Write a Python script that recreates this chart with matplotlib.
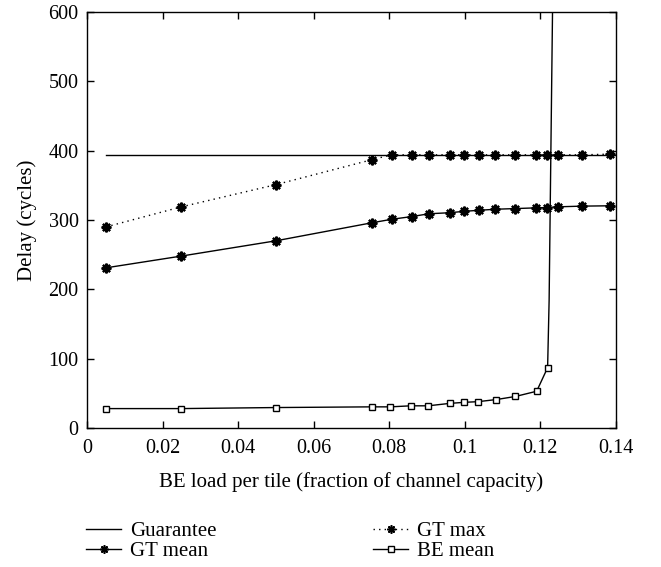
import matplotlib
matplotlib.use("Agg")
import matplotlib.pyplot as plt
from matplotlib.lines import Line2D

plt.rcParams['font.family'] = ['Liberation Serif', 'DejaVu Serif']

# Guarantee
guar_x = [0.005, 0.14]
guar_y = [394, 394]

# GT max
gtmax_x = [0.005, 0.025, 0.050, 0.0754, 0.0806, 0.0860, 0.0905, 0.0960, 0.0998,
           0.1037, 0.1081, 0.1134, 0.1188, 0.1218, 0.1246, 0.1310, 0.1385]
gtmax_y = [290, 319, 351, 387, 394, 394, 394, 394, 394,
           394, 394, 394, 394, 394, 394, 394, 395]

# GT mean
gtmean_x = gtmax_x
gtmean_y = [231, 248, 270, 296, 301, 305, 309, 310.5, 312.5,
            314, 315.5, 316.5, 317.5, 318, 319, 320, 320.5]

# BE mean (markers)
be_x = [0.005, 0.025, 0.050, 0.0754, 0.0803, 0.0857, 0.0903, 0.0960, 0.0998,
        0.1035, 0.1083, 0.1134, 0.1190, 0.1219]
be_y = [28, 28, 29.5, 30.5, 30.5, 32, 32, 35.5, 37,
        38, 41, 45.5, 53, 87]
# BE mean curve continuation (no markers)
be_tail_x = [0.1219, 0.1223, 0.1232]
be_tail_y = [87, 184, 600]

legend_labels = ['Guarantee', 'GT mean', 'GT max', 'BE mean']

fig = plt.figure(figsize=(6.61, 5.67), dpi=100)
ax = fig.add_axes([87/661, 1-428/567, (616-87)/661, (428-12)/567])

star = (8, 2, 0)
ax.plot(guar_x, guar_y, color='black', lw=1.0)
ax.plot(gtmean_x, gtmean_y, color='black', lw=1.0, marker=star, ms=7, mew=1.6)
ax.plot(gtmax_x, gtmax_y, color='black', lw=1.0, ls=(0, (1, 3)), marker=star, ms=7,
        mew=1.6)
ax.plot(be_tail_x, be_tail_y, color='black', lw=1.0)
ax.plot(be_x, be_y, color='black', lw=1.0, marker='s', ms=5, mfc='white', mew=1.0)

ax.set_xlim(0, 0.14)
ax.set_ylim(0, 600)
ax.set_xticks([0, 0.02, 0.04, 0.06, 0.08, 0.1, 0.12, 0.14])
ax.set_xticklabels(['0', '0.02', '0.04', '0.06', '0.08', '0.1', '0.12', '0.14'])
ax.set_yticks([0, 100, 200, 300, 400, 500, 600])
ax.tick_params(direction='in', top=True, right=True, labelsize=14.5, length=5, width=1,
               pad=6)
ax.tick_params(axis='x', pad=8)
for s in ax.spines.values():
    s.set_linewidth(1.0)
ax.set_xlabel('BE load per tile (fraction of channel capacity)', fontsize=15, labelpad=10)
ax.set_ylabel('Delay (cycles)', fontsize=15, labelpad=8)

# legend entries (handles only describe styles)
h_guar = Line2D([], [], color='black', lw=1.0)
h_mean = Line2D([], [], color='black', lw=1.0, marker=star, ms=6, mew=1.2)
h_max = Line2D([], [], color='black', lw=1.0, ls=(0, (1, 3)), marker=star, ms=6, mew=1.2)
h_be = Line2D([], [], color='black', lw=1.0, marker='s', ms=4.5, mfc='white', mew=1.0)
handles = [h_guar, h_mean, h_max, h_be]
positions = [(86, 531), (86, 551), (373, 531), (373, 551)]
for h, lab, (px, py) in zip(handles, legend_labels, positions):
    fig.legend([h], [lab], loc='center left', bbox_to_anchor=(px/661, 1-py/567),
               frameon=False, fontsize=15, handlelength=1.7, handletextpad=0.4,
               borderpad=0, borderaxespad=0)

fig.savefig('out.png', dpi=100)
